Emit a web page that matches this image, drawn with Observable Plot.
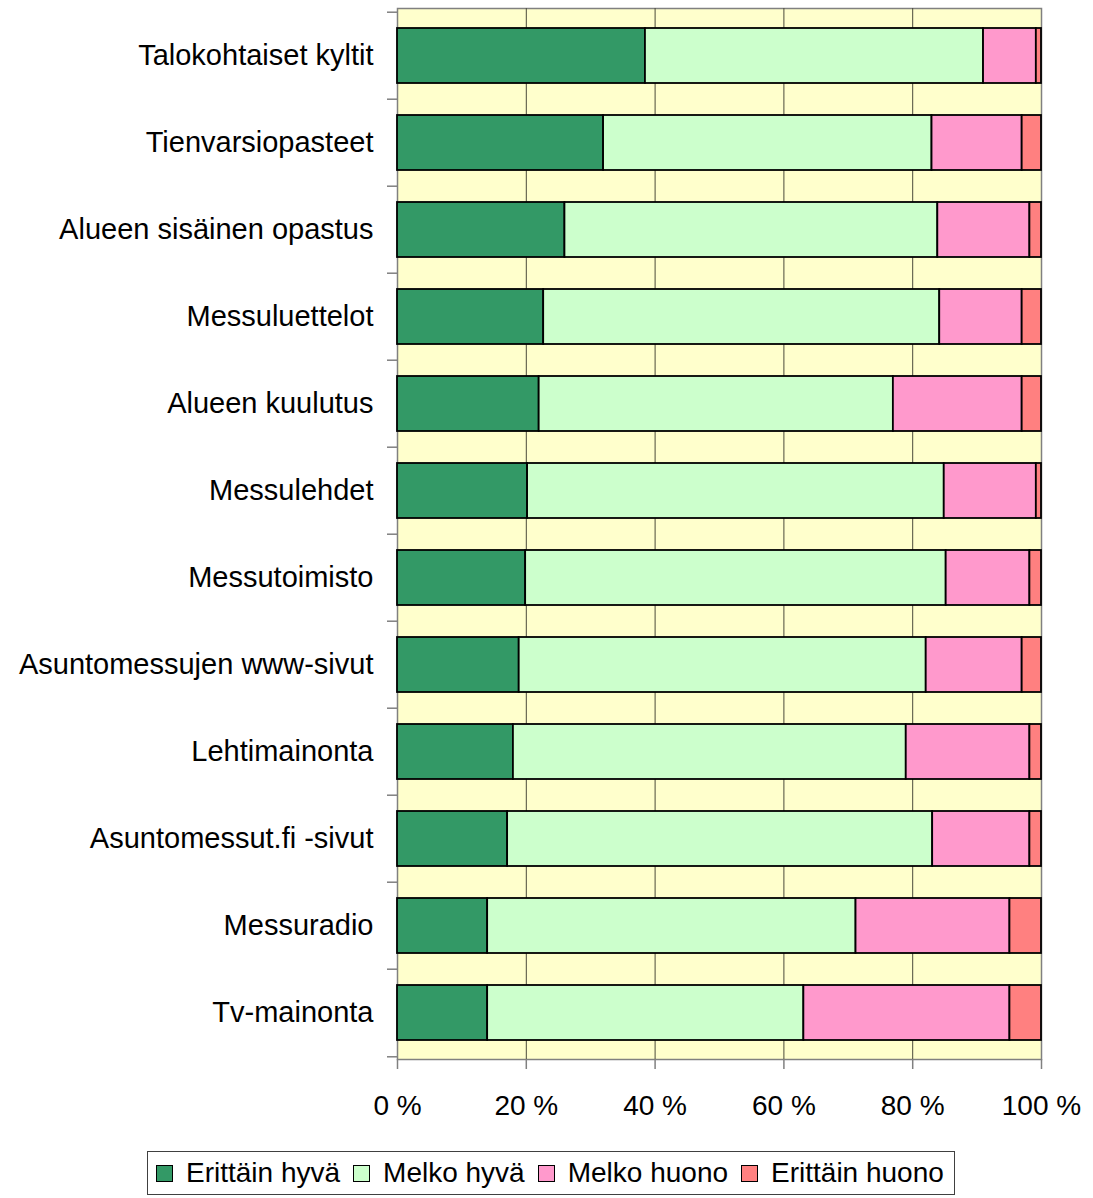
<!DOCTYPE html>
<html>
<head>
<meta charset="utf-8">
<script src="https://cdn.jsdelivr.net/npm/d3@7"></script>
<script src="https://cdn.jsdelivr.net/npm/@observablehq/plot@0.6"></script>
<style>
  html, body { margin: 0; padding: 0; background: #fff; }
  body { position: relative; width: 1093px; height: 1198px; font-family: "Liberation Sans", Arial, sans-serif; }
  #legend {
    position: absolute; left: 147px; top: 1151px; width: 808px; height: 44px;
    box-sizing: border-box; border: 1px solid #404040; background: #fff;
    display: flex; align-items: center; padding-left: 8px;
    font-size: 28px; color: #000; white-space: nowrap;
  }
  #legend .item { display: flex; align-items: center; margin-right: 13px; }
  #legend .sw { width: 15px; height: 15px; border: 1.5px solid #000; margin-right: 13px; }
</style>
</head>
<body>
<div id="chart"></div>
<div id="legend"></div>
<script>
const categories = [
  "Talokohtaiset kyltit",
  "Tienvarsiopasteet",
  "Alueen sisäinen opastus",
  "Messuluettelot",
  "Alueen kuulutus",
  "Messulehdet",
  "Messutoimisto",
  "Asuntomessujen www-sivut",
  "Lehtimainonta",
  "Asuntomessut.fi -sivut",
  "Messuradio",
  "Tv-mainonta"
];
const seriesNames = ["Erittäin hyvä", "Melko hyvä", "Melko huono", "Erittäin huono"];
const seriesColors = ["#339966", "#CCFFCC", "#FF99CC", "#FF8080"];
const erittainHyva  = [38.5, 32, 26, 22.7, 22, 20.2, 19.9, 18.9, 18, 17.1, 14, 14];
const melkoHyva     = [52.5, 51, 57.9, 61.5, 55, 64.7, 65.3, 63.2, 61, 66, 57.2, 49.1];
const melkoHuono    = [8.2, 14, 14.3, 12.8, 20, 14.3, 13, 14.9, 19.2, 15.1, 23.9, 32];
const erittainHuono = [0.8, 3, 1.8, 3, 3, 0.8, 1.8, 3, 1.8, 1.8, 4.9, 4.9];
const xTicks = [0, 20, 40, 60, 80, 100];
const gridTicks = [20, 40, 60, 80];

const seriesValues = [erittainHyva, melkoHyva, melkoHuono, erittainHuono];
const data = [];
categories.forEach((c, i) => {
  seriesNames.forEach((s, j) => data.push({cat: c, series: s, value: seriesValues[j][i]}));
});

const W = 1093, H = 1140, mT = 8, mB = 81, mL = 397, mR = 52;
const step = (H - mT - mB) / categories.length;
const tickLenX = 10 / ((W - mL - mR) / 100);

const chart = Plot.plot({
  width: W,
  height: H,
  marginTop: mT,
  marginBottom: mB,
  marginLeft: mL,
  marginRight: mR,
  style: {fontFamily: "Liberation Sans, Arial, sans-serif", fontSize: "28px", color: "#000", background: "#fff"},
  x: {domain: [0, 100]},
  y: {domain: categories, paddingInner: 0.37, paddingOuter: 0.185},
  color: {domain: seriesNames, range: seriesColors},
  marks: [
    Plot.frame({fill: "#FFFFCC", stroke: "#808080", strokeWidth: 1.5}),
    Plot.ruleX(gridTicks, {stroke: "#4a4a3a", strokeWidth: 1}),
    Plot.barX(data, Plot.stackX({x: "value", y: "cat", fill: "series", order: seriesNames, stroke: "#000", strokeWidth: 1.8})),
    Plot.ruleY(categories, {y: d => d, x1: -tickLenX, x2: 0, dy: -step / 2, stroke: "#808080", strokeWidth: 1.5}),
    Plot.ruleY([categories[categories.length - 1]], {y: d => d, x1: -tickLenX, x2: 0, dy: step / 2, stroke: "#808080", strokeWidth: 1.5}),
    Plot.axisY({tickSize: 0, tickPadding: 24, fontSize: 29, label: null}),
    Plot.axisX({ticks: xTicks, tickFormat: d => d + " %", tickSize: 10, tickPadding: 26, fontSize: 28, stroke: "#808080", fill: "#000", strokeWidth: 1.5, label: null})
  ]
});
document.getElementById("chart").appendChild(chart);

const legend = document.getElementById("legend");
seriesNames.forEach((s, j) => {
  const item = document.createElement("div");
  item.className = "item";
  const sw = document.createElement("div");
  sw.className = "sw";
  sw.style.background = seriesColors[j];
  const t = document.createElement("span");
  t.textContent = s;
  item.appendChild(sw);
  item.appendChild(t);
  legend.appendChild(item);
});
</script>
</body>
</html>
